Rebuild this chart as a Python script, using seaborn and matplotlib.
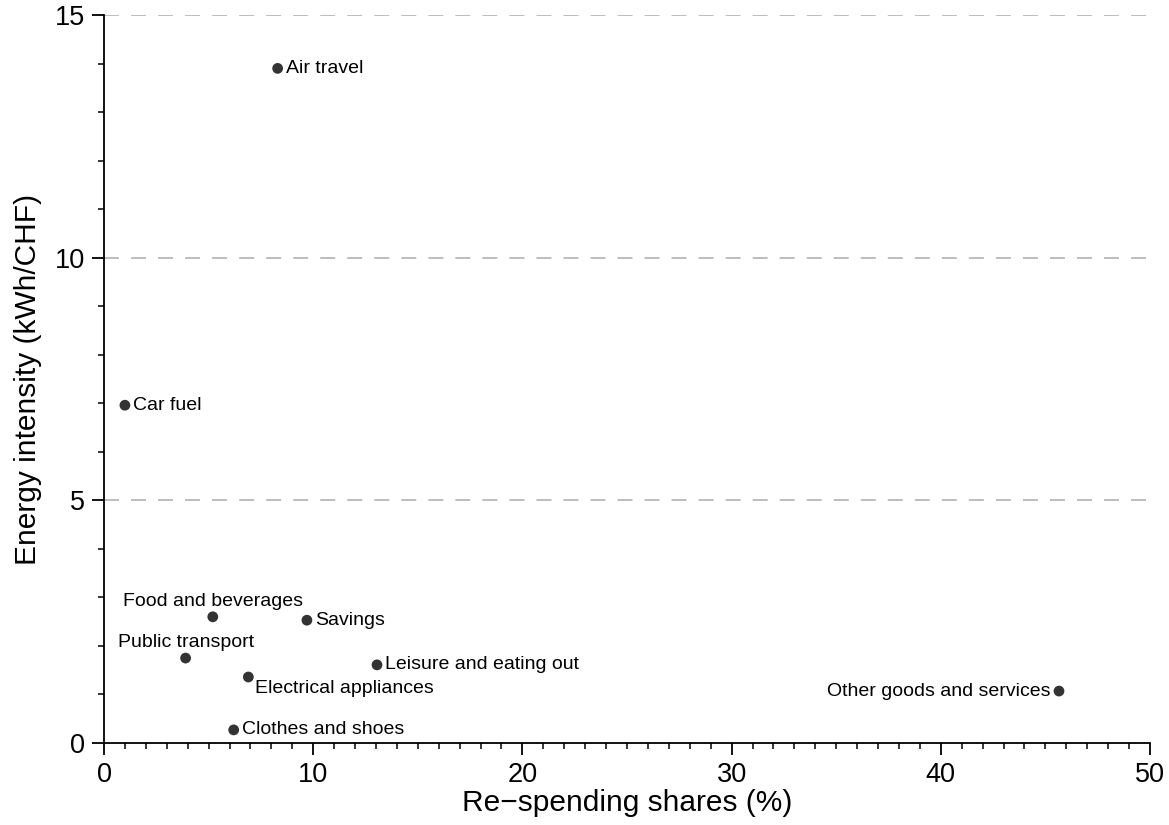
import matplotlib
matplotlib.use("Agg")
import matplotlib.pyplot as plt
import seaborn as sns
import pandas as pd
from matplotlib.ticker import MultipleLocator

categories = ["Air travel", "Car fuel", "Food and beverages", "Savings",
              "Public transport", "Electrical appliances", "Leisure and eating out",
              "Clothes and shoes", "Other goods and services"]
shares = [8.3, 1.0, 5.2, 9.7, 3.9, 6.9, 13.05, 6.2, 45.65]
intensity = [13.9, 6.96, 2.6, 2.53, 1.75, 1.36, 1.61, 0.27, 1.07]

# label placement per category (offset in points, ha, va)
placement = {
    "Air travel": ((6, 0), "left", "center"),
    "Car fuel": ((6, 0), "left", "center"),
    "Food and beverages": ((0, 5), "center", "bottom"),
    "Savings": ((6, 0), "left", "center"),
    "Public transport": ((0, 5), "center", "bottom"),
    "Electrical appliances": ((5, -2), "left", "top"),
    "Leisure and eating out": ((6, 0), "left", "center"),
    "Clothes and shoes": ((6, 0), "left", "center"),
    "Other goods and services": ((-6, 0), "right", "center"),
}

sns.set_style("ticks")
plt.rcParams["font.family"] = ["Liberation Sans", "DejaVu Sans"]
plt.rcParams["text.color"] = "black"
plt.rcParams["axes.labelcolor"] = "black"
plt.rcParams["xtick.color"] = "black"
plt.rcParams["ytick.color"] = "black"

df = pd.DataFrame({"cat": categories, "x": shares, "y": intensity})

fig = plt.figure(figsize=(11.69, 8.25), dpi=100)
ax = fig.add_axes([104/1169, (825-743)/825, (1150-104)/1169, (743-15)/825])

for yv in [5, 10, 15]:
    ax.axhline(yv, color="#bdbdbd", lw=1.4, ls=(0, (7.7, 6.2)), zorder=0)

sns.scatterplot(data=df, x="x", y="y", ax=ax, color="#333333", s=60,
                edgecolor="none", zorder=3)

for c, xv, yv in zip(categories, shares, intensity):
    off, ha, va = placement[c]
    ax.annotate(c, (xv, yv), xytext=off, textcoords="offset points",
                ha=ha, va=va, fontsize=14, color="black")

ax.set_xlim(0, 50)
ax.set_ylim(0, 15)
ax.xaxis.set_major_locator(MultipleLocator(10))
ax.xaxis.set_minor_locator(MultipleLocator(1))
ax.yaxis.set_major_locator(MultipleLocator(5))
ax.yaxis.set_minor_locator(MultipleLocator(1))
ax.tick_params(which="major", length=8.5, width=1.3, labelsize=19.5, direction="out",
               color="black", labelcolor="black", pad=5)
ax.tick_params(which="minor", length=4.5, width=1.1, direction="out", color="black")
for s in ["top", "right"]:
    ax.spines[s].set_visible(False)
for s in ["left", "bottom"]:
    ax.spines[s].set_linewidth(1.3)
    ax.spines[s].set_color("black")
ax.set_xlabel("Re\u2212spending shares (%)", fontsize=21.5, labelpad=1, color="black")
ax.set_ylabel("Energy intensity (kWh/CHF)", fontsize=21.5, labelpad=9, color="black")

fig.savefig("out.png", dpi=100)
